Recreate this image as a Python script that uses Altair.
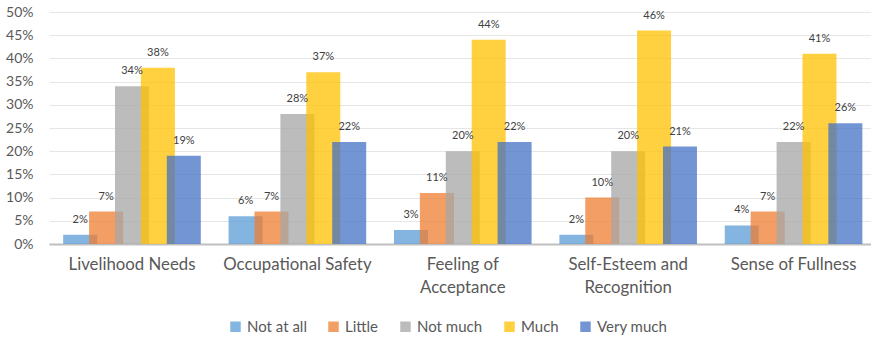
import altair as alt
import pandas as pd

# Survey results: share of respondents per need category and response level
categories = [
    "Livelihood Needs",
    "Occupational Safety",
    "Feeling of Acceptance",
    "Self-Esteem and Recognition",
    "Sense of Fullness",
]
levels = ["Not at all", "Little", "Not much", "Much", "Very much"]
colors = ["#5B9BD5", "#ED7D31", "#A5A5A5", "#FFC000", "#4472C4"]

not_at_all = [2, 6, 3, 2, 4]
little = [7, 7, 11, 10, 7]
not_much = [34, 28, 20, 20, 22]
much = [38, 37, 44, 46, 41]
very_much = [19, 22, 22, 21, 26]

series = [not_at_all, little, not_much, much, very_much]
rows = []
for ci, cat in enumerate(categories):
    for li, lvl in enumerate(levels):
        rows.append({"category": cat, "level": lvl, "order": li,
                     "value": series[li][ci] / 100})
df = pd.DataFrame(rows)

FONT = "Lato"
label_expr = (
    "datum.label == 'Feeling of Acceptance' ? ['Feeling of', 'Acceptance'] : "
    "datum.label == 'Self-Esteem and Recognition' ? ['Self-Esteem and', 'Recognition'] : "
    "datum.label"
)

x = alt.X(
    "category:N",
    sort=categories,
    title=None,
    scale=alt.Scale(paddingInner=0.217, paddingOuter=0.0935, align=0.59),
    axis=alt.Axis(
        labelAngle=0,
        labelExpr=label_expr,
        labelFont=FONT,
        labelFontSize=16.8,
        labelColor="#595959",
        labelLineHeight=23,
        labelPadding=12,
        labelBaseline="top",
        ticks=False,
        domainColor="#BFBFBF",
        domainWidth=2,
        grid=False,
    ),
)
x_off = alt.XOffset("level:N", sort=levels, scale=alt.Scale(paddingInner=0, paddingOuter=0))
y = alt.Y(
    "value:Q",
    title=None,
    scale=alt.Scale(domain=[0, 0.5], nice=False),
    axis=alt.Axis(
        values=[i / 100 for i in range(0, 51, 5)],
        format=".0%",
        labelFont=FONT,
        labelFontSize=14,
        labelColor="#595959",
        labelPadding=16,
        labelOverlap=False,
        ticks=False,
        domain=False,
        gridColor="#E6E6E6",
        gridWidth=1,
    ),
)

bars = alt.Chart(df).mark_bar(width=34, opacity=0.75).encode(
    x=x,
    xOffset=x_off,
    y=y,
    color=alt.Color(
        "level:N",
        sort=levels,
        scale=alt.Scale(domain=levels, range=colors),
        legend=alt.Legend(
            title=None,
            orient="none",
            direction="horizontal",
            legendX=179,
            legendY=307,
            symbolType="square",
            symbolSize=110,
            symbolOpacity=0.75,
            symbolStrokeWidth=0,
            labelFont=FONT,
            labelFontSize=15,
            labelColor="#595959",
            labelOffset=4,
            columnPadding=19,
            padding=0,
        ),
    ),
    order=alt.Order("order:Q"),
)

labels = alt.Chart(df).mark_text(
    font=FONT, fontSize=11, color="#404040", baseline="middle", dy=-15
).encode(
    x=x,
    xOffset=x_off,
    y=y,
    text=alt.Text("value:Q", format=".0%"),
)

chart = (
    alt.layer(bars, labels)
    .properties(
        width=822,
        height=232,
        padding={"left": 49, "top": 12, "right": 0, "bottom": 96},
        autosize=alt.AutoSizeParams(type="none"),
    )
    .configure_view(stroke=None)
)

chart.save("out.html", embed_options={"renderer": "svg", "actions": False})
